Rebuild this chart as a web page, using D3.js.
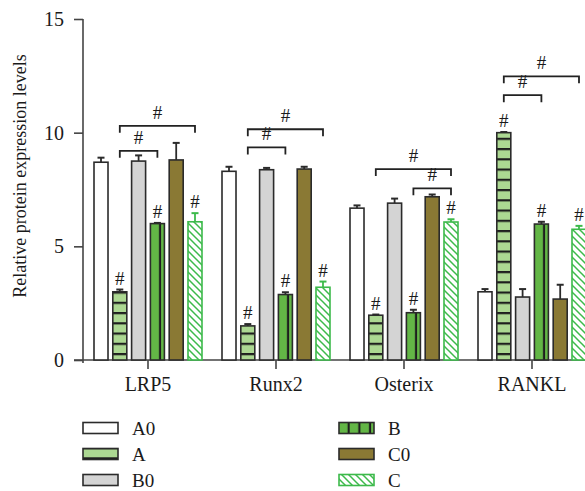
<!DOCTYPE html>
<html><head><meta charset="utf-8">
<script src="https://cdn.jsdelivr.net/npm/d3@7"></script>
<style>
body{margin:0;background:#fff}
svg{display:block}
text{font-family:"Liberation Serif","Times New Roman",serif;fill:#1a1a1a}
</style>
</head><body>
<svg id="chart" width="585" height="491"></svg>
<script>
const categories = ["LRP5", "Runx2", "Osterix", "RANKL"];
const seriesNames = ["A0", "A", "B0", "B", "C0", "C"];
const valA0 = [8.7, 8.3, 6.68, 3.0];
const errA0 = [0.2, 0.2, 0.12, 0.12];
const valA  = [3.0, 1.5, 1.97, 10.0];
const errA  = [0.1, 0.08, 0.03, 0.03];
const valB0 = [8.75, 8.37, 6.9, 2.77];
const errB0 = [0.25, 0.08, 0.2, 0.35];
const valB  = [6.0, 2.88, 2.08, 5.98];
const errB  = [0.03, 0.1, 0.13, 0.1];
const valC0 = [8.8, 8.4, 7.18, 2.68];
const errC0 = [0.75, 0.1, 0.1, 0.63];
const valC  = [6.08, 3.2, 6.07, 5.75];
const errC  = [0.38, 0.25, 0.12, 0.15];
const markedSeries = ["A", "B", "C"];
const bracketCats   = ["LRP5", "LRP5", "Runx2", "Runx2", "Osterix", "Osterix", "RANKL", "RANKL"];
const bracketFrom   = ["A", "A", "A", "A", "A", "B", "A", "A"];
const bracketTo     = ["B", "C", "B", "C", "C", "C", "B", "C"];
const bracketLevels = [9.2, 10.3, 9.35, 10.15, 8.4, 7.55, 11.65, 12.48];
const yTicks = [0, 5, 10, 15];
const legendRows = [["A0", "B"], ["A", "C0"], ["B0", "C"]];

const values = {A0: valA0, A: valA, B0: valB0, B: valB, C0: valC0, C: valC};
const errors = {A0: errA0, A: errA, B0: errB0, B: errB, C0: errC0, C: errC};

const svg = d3.select("#chart");
const defs = svg.append("defs");
const dark = "#2b2b2b";
const style = {
  A0: {fill: "#ffffff", stroke: dark},
  A:  {fill: "url(#patA)", stroke: dark},
  B0: {fill: "#d4d4d4", stroke: dark},
  B:  {fill: "#63b646", stroke: dark},
  C0: {fill: "#8a7934", stroke: dark},
  C:  {fill: "url(#patC)", stroke: "#3dba4b"}
};

const y = d3.scaleLinear().domain([0, 15]).range([360, 19]);
const x0 = d3.scaleBand().domain(categories).range([84, 596]);
const x1 = d3.scaleBand().domain(seriesNames).range([0, x0.bandwidth()])
  .paddingInner(0.255).paddingOuter(0.532);
const bw = x1.bandwidth();

// Patterns
function hLinePattern(id, baseY) {
  const p = defs.append("pattern").attr("id", id).attr("patternUnits", "userSpaceOnUse")
    .attr("x", 0).attr("y", baseY).attr("width", 20).attr("height", 10.25);
  p.append("rect").attr("width", 20).attr("height", 10.25).attr("fill", "#acd892");
  p.append("rect").attr("x", 0).attr("y", 0).attr("width", 20).attr("height", 2.2).attr("fill", "#1e1e1e");
}
hLinePattern("patA", y(0) - 7);
hLinePattern("patAleg", 0);

const pc = defs.append("pattern").attr("id", "patC").attr("patternUnits", "userSpaceOnUse")
  .attr("width", 7).attr("height", 7);
pc.append("rect").attr("width", 7).attr("height", 7).attr("fill", "#fff");
pc.append("path").attr("d", "M0,0L7,7M-2,5L2,9M5,-2L9,2")
  .attr("stroke", "#3dba4b").attr("stroke-width", 1.5);

function vLinePattern(id, x0pos, period) {
  const p = defs.append("pattern").attr("id", id).attr("patternUnits", "userSpaceOnUse")
    .attr("x", x0pos).attr("y", 0).attr("width", period).attr("height", 20);
  p.append("rect").attr("width", period).attr("height", 20).attr("fill", "#63b646");
  p.append("rect").attr("x", 8.6).attr("width", 2.2).attr("height", 20).attr("fill", "#1e1e1e");
}

// Axes
const yAxis = svg.append("g").attr("transform", "translate(83,0)")
  .call(d3.axisLeft(y).tickValues(yTicks).tickSize(9).tickPadding(10).tickSizeOuter(0));
yAxis.select(".domain").attr("stroke", "#444").attr("stroke-width", 1.6)
  .attr("d", `M0,${y(15)}V${y(0) + 3}`);
yAxis.selectAll(".tick line").attr("stroke", "#444").attr("stroke-width", 1.6);
yAxis.selectAll(".tick text").attr("font-size", 20).attr("font-family", "Liberation Serif").attr("fill", "#1a1a1a");

const xAxis = svg.append("g").attr("transform", `translate(0,${y(0)})`)
  .call(d3.axisBottom(x0).tickSize(9).tickPadding(8).tickSizeOuter(0));
xAxis.select(".domain").attr("stroke", "#444").attr("stroke-width", 1.6)
  .attr("d", `M74,0H590`);
xAxis.selectAll(".tick line").attr("stroke", "#444").attr("stroke-width", 1.6);
xAxis.selectAll(".tick text").attr("font-size", 20).attr("font-family", "Liberation Serif").attr("fill", "#1a1a1a");

// Y title
svg.append("text").attr("transform", "translate(26,176) rotate(-90)")
  .attr("text-anchor", "middle").attr("font-size", 18).text("Relative protein expression levels");

// Bars
const rows = [];
categories.forEach((c, ci) => seriesNames.forEach(s => rows.push({
  cat: c, ci, s, v: values[s][ci], e: errors[s][ci]
})));

const g = svg.append("g");
rows.forEach((d, i) => {
  const bx = x0(d.cat) + x1(d.s);
  let fill = style[d.s].fill;
  if (d.s === "B") {
    vLinePattern("patB" + d.ci, bx, 10.7);
    fill = `url(#patB${d.ci})`;
  }
  const col = style[d.s].stroke;
  const topY = y(d.v + d.e);
  g.append("line").attr("x1", bx + bw / 2).attr("x2", bx + bw / 2)
    .attr("y1", y(d.v)).attr("y2", topY).attr("stroke", col).attr("stroke-width", 1.8);
  g.append("line").attr("x1", bx + bw / 2 - 3.5).attr("x2", bx + bw / 2 + 3.5)
    .attr("y1", topY).attr("y2", topY).attr("stroke", col).attr("stroke-width", 2);
  g.append("rect").attr("x", bx).attr("y", y(d.v)).attr("width", bw)
    .attr("height", y(0) - y(d.v)).attr("fill", fill)
    .attr("stroke", col).attr("stroke-width", 1.6);
  if (markedSeries.includes(d.s)) {
    g.append("text").attr("x", bx + bw / 2).attr("y", topY - 5)
      .attr("text-anchor", "middle").attr("font-size", 19).text("#");
  }
});

// Brackets
bracketCats.forEach((c, i) => {
  const xa = x0(c) + x1(bracketFrom[i]) + bw / 2;
  const xb = x0(c) + x1(bracketTo[i]) + bw / 2;
  const yy = y(bracketLevels[i]);
  g.append("path").attr("d", `M${xa},${yy + 7}V${yy}H${xb}V${yy + 7}`)
    .attr("fill", "none").attr("stroke", "#222").attr("stroke-width", 1.8);
  g.append("text").attr("x", (xa + xb) / 2).attr("y", yy - 7)
    .attr("text-anchor", "middle").attr("font-size", 19).text("#");
});

// Legend
const legX = [83, 339];
const legY = [428, 454, 480];
legendRows.forEach((row, ri) => row.forEach((s, ci) => {
  const lx = legX[ci], ly = legY[ri] - 5.5;
  let fill = style[s].fill;
  if (s === "A") { fill = "url(#patAleg)"; d3.select("#patAleg").attr("y", ly + 11 - 2.2); }
  if (s === "B") { vLinePattern("patBleg", lx, 10.7); fill = "url(#patBleg)"; }
  svg.append("rect").attr("x", lx).attr("y", ly).attr("width", 35).attr("height", 11)
    .attr("fill", fill).attr("stroke", style[s].stroke).attr("stroke-width", 1.6);
  svg.append("text").attr("x", lx + 49).attr("y", legY[ri] + 7)
    .attr("font-size", 19).text(s);
}));
</script>
</body></html>
